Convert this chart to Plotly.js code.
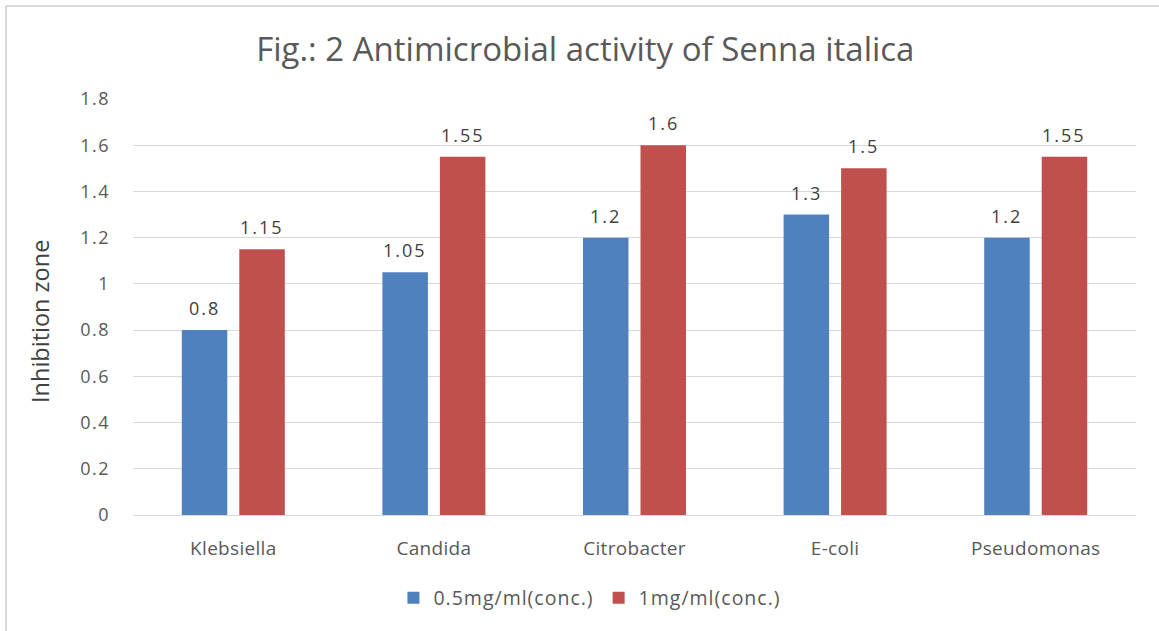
<!DOCTYPE html>
<html>
<head>
<meta charset="utf-8">
<script src="https://cdn.plot.ly/plotly-3.0.1.min.js"></script>
<style>
html,body{margin:0;padding:0;background:#fff;}
#chart{width:1159px;height:631px;}
.ytick text{letter-spacing:1.5px;}
.xtick text{letter-spacing:0.3px;}
.annotation-text.datalabel{letter-spacing:2px;}
.legendtext{letter-spacing:1px;}
</style>
</head>
<body>
<div id="chart"></div>
<script>
const categories = ["Klebsiella", "Candida", "Citrobacter", "E-coli", "Pseudomonas"];
const seriesNames = ["0.5mg/ml(conc.)", "1mg/ml(conc.)"];
const lowConc = [0.8, 1.05, 1.2, 1.3, 1.2];
const highConc = [1.15, 1.55, 1.6, 1.5, 1.55];
const yTicks = [0, 0.2, 0.4, 0.6, 0.8, 1, 1.2, 1.4, 1.6, 1.8];

const FONT = "'Open Sans', 'Noto Sans', sans-serif";
const TXT = "#595959";
const colors = ["#4F81BD", "#C0504D"];
const series = [lowConc, highConc];

const traces = series.map((vals, i) => ({
  type: "bar",
  name: seriesNames[i],
  x: categories,
  y: vals,
  marker: {color: colors[i]},
  hoverinfo: "none"
}));

const slotShift = 28.75;
const annotations = [];
series.forEach((vals, i) => {
  vals.forEach((v, j) => {
    annotations.push({
      x: categories[j], y: v, xref: "x", yref: "y",
      text: String(v), showarrow: false,
      xshift: (i === 0 ? -1 : 1) * slotShift,
      yanchor: "bottom", yshift: 8,
      font: {family: FONT, size: 18, color: "#404040"}
    });
  });
});
annotations.push({
  text: "Inhibition zone", xref: "paper", yref: "paper",
  x: -0.0927, y: 0.464, textangle: -90, showarrow: false,
  xanchor: "center", yanchor: "middle",
  font: {family: FONT, size: 23.5, color: "#404040"}
});

const layout = {
  width: 1159, height: 631,
  margin: {l: 133, r: 23, t: 99, b: 116},
  paper_bgcolor: "#ffffff", plot_bgcolor: "#ffffff",
  title: {
    text: "Fig.: 2 Antimicrobial activity of Senna italica",
    x: 0.505, xref: "container", xanchor: "center",
    y: 0.921, yref: "container", yanchor: "middle",
    font: {family: FONT, size: 33, color: TXT}
  },
  barmode: "group",
  bargap: 0.4267,
  bargroupgap: 0.2087,
  xaxis: {
    type: "category",
    showgrid: false, zeroline: false,
    showline: false,
    ticks: "", ticklabelstandoff: 20,
    tickfont: {family: FONT, size: 19, color: TXT},
    fixedrange: true
  },
  yaxis: {
    range: [0, 1.8],
    tickvals: yTicks,
    ticktext: yTicks.map(String),
    showgrid: true, gridcolor: "#D9D9D9", gridwidth: 1,
    zeroline: true, zerolinecolor: "#D9D9D9", zerolinewidth: 1,
    showline: false, ticks: "", ticklabelstandoff: 22,
    tickfont: {family: FONT, size: 18, color: TXT},
    fixedrange: true
  },
  showlegend: true,
  legend: {
    orientation: "h",
    xref: "container", yref: "container",
    x: 0.509, xanchor: "center",
    y: 0.052, yanchor: "middle",
    font: {family: FONT, size: 19.5, color: TXT},
    itemwidth: 30
  },
  annotations: annotations,
  shapes: [
    {type: "line", xref: "paper", yref: "paper", x0: -0.1266, x1: -0.1266, y0: 1.2236, y1: -0.35, line: {color: "#D9D9D9", width: 2}},
    {type: "line", xref: "paper", yref: "paper", x0: -0.1266, x1: 1.05, y0: 1.2236, y1: 1.2236, line: {color: "#D9D9D9", width: 2}}
  ]
};

Plotly.newPlot("chart", traces, layout, {displayModeBar: false, staticPlot: true}).then(() => {
  const els = document.querySelectorAll("#chart .annotation-text");
  els.forEach((el, k) => {
    if (k < annotations.length - 1) el.classList.add("datalabel");
  });
});
</script>
</body>
</html>
